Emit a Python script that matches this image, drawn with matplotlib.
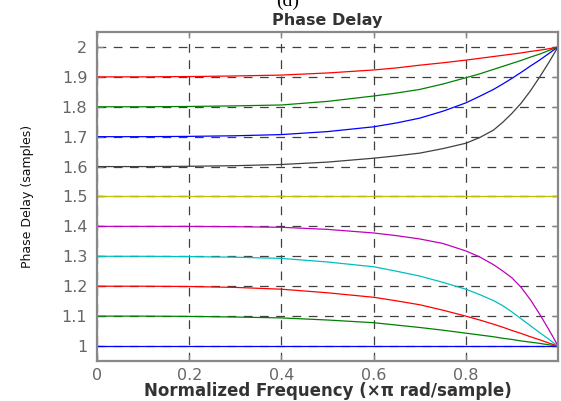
"""
Phase delay of fractional delay filters, panel (d)
"""
import matplotlib
matplotlib.use('Agg')
import matplotlib.pyplot as plt

# Normalized frequency (x pi rad/sample) at which the curves were read
freq = [0, 0.1, 0.2, 0.3, 0.4, 0.5, 0.6, 0.65, 0.7, 0.75, 0.8,
        0.83, 0.86, 0.88, 0.9, 0.92, 0.94, 0.96, 0.98, 0.99, 1.0]

# Phase delay (samples), one list per curve, bottom to top
delay_10 = [1.0] * len(freq)
delay_11 = [1.1, 1.1, 1.099, 1.097, 1.094, 1.087, 1.078, 1.07, 1.062, 1.053, 1.043,
            1.037, 1.031, 1.026, 1.022, 1.017, 1.013, 1.009, 1.004, 1.002, 1.0]
delay_12 = [1.2, 1.2, 1.199, 1.196, 1.19, 1.178, 1.163, 1.151, 1.138, 1.12, 1.1,
            1.087, 1.073, 1.063, 1.052, 1.042, 1.031, 1.021, 1.01, 1.005, 1.0]
delay_13 = [1.3, 1.3, 1.299, 1.297, 1.293, 1.281, 1.265, 1.25, 1.234, 1.213, 1.19,
            1.172, 1.152, 1.135, 1.114, 1.091, 1.068, 1.045, 1.023, 1.011, 1.0]
delay_14 = [1.4, 1.4, 1.4, 1.399, 1.397, 1.39, 1.378, 1.369, 1.358, 1.343, 1.318,
            1.298, 1.272, 1.251, 1.228, 1.196, 1.155, 1.107, 1.055, 1.028, 1.0]
delay_15 = [1.5] * len(freq)
delay_16 = [1.6, 1.6, 1.601, 1.603, 1.607, 1.615, 1.628, 1.636, 1.645, 1.66, 1.678,
            1.697, 1.722, 1.748, 1.778, 1.812, 1.853, 1.899, 1.948, 1.974, 2.0]
delay_17 = [1.7, 1.7, 1.701, 1.703, 1.707, 1.717, 1.733, 1.746, 1.762, 1.785, 1.813,
            1.835, 1.858, 1.876, 1.895, 1.915, 1.936, 1.956, 1.978, 1.989, 2.0]
delay_18 = [1.8, 1.8, 1.801, 1.803, 1.806, 1.818, 1.836, 1.846, 1.858, 1.876, 1.897,
            1.91, 1.925, 1.935, 1.945, 1.955, 1.966, 1.976, 1.988, 1.994, 2.0]
delay_19 = [1.9, 1.9, 1.901, 1.903, 1.906, 1.913, 1.923, 1.93, 1.939, 1.947, 1.956,
            1.962, 1.968, 1.972, 1.976, 1.98, 1.985, 1.989, 1.994, 1.997, 2.0]

curves = [delay_10, delay_11, delay_12, delay_13, delay_14,
          delay_15, delay_16, delay_17, delay_18, delay_19]

# MATLAB-like color order b, g, r, c, m, y, k
colors = ['#0000ff', '#008000', '#ff0000', '#00bfbf', '#bf00bf',
          '#bfbf00', '#404040', '#0000ff', '#008000', '#ff0000']

yticks = [1, 1.1, 1.2, 1.3, 1.4, 1.5, 1.6, 1.7, 1.8, 1.9, 2]
ytick_labels = ['1', '1.1', '1.2', '1.3', '1.4', '1.5', '1.6', '1.7', '1.8', '1.9', '2']
xticks = [0, 0.2, 0.4, 0.6, 0.8]
xtick_labels = ['0', '0.2', '0.4', '0.6', '0.8']

fig = plt.figure(figsize=(5.61, 4.01), dpi=100)
ax = fig.add_axes([0.173, 0.0998, 0.8217, 0.8204])

for values, color in zip(curves, colors):
    ax.plot(freq, values, color=color, linewidth=0.9)

ax.set_xlim(0, 1)
ax.set_ylim(0.95, 2.05)
ax.set_xticks(xticks)
ax.set_xticklabels(xtick_labels)
ax.set_yticks(yticks)
ax.set_yticklabels(ytick_labels)

# Dashed grid and gray box
ax.grid(True, linestyle=(0, (7, 6)), linewidth=0.9, color='#404040')
ax.set_axisbelow(True)
for spine in ax.spines.values():
    spine.set_color('#888888')
    spine.set_linewidth(1.6)
ax.tick_params(direction='in', length=4, width=1, color='#888888',
               labelcolor='#666666', labelsize=11.5, top=True, right=True)
ax.tick_params(axis='x', pad=5)
ax.tick_params(axis='y', pad=7)

ax.set_title('Phase Delay', fontsize=11.5, fontweight='bold',
             color='#333333', pad=5)
ax.set_xlabel('Normalized Frequency (\u00d7\u03c0 rad/sample)', fontsize=12,
              fontweight='bold', color='#333333', va='center')
ax.xaxis.set_label_coords(0.5, -0.091)
ax.set_ylabel('Phase Delay (samples)', fontsize=9, color='#111111', va='center')
ax.yaxis.set_label_coords(-0.151, 0.5)

# Panel tag, partly cut off at the top edge
fig.text(0.512, 0.985, '(d)', fontsize=14, family='Liberation Serif',
         ha='center', va='baseline', color='black')

fig.savefig('out.png', dpi=100)
